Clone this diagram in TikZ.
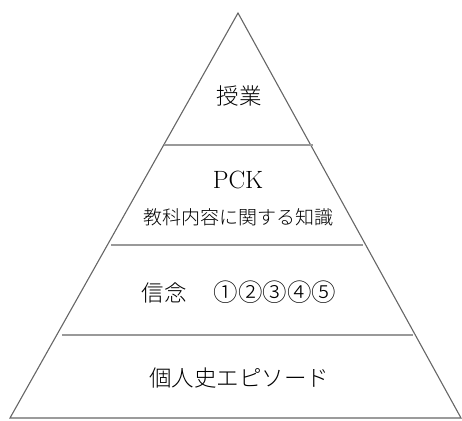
\documentclass[tikz,border=0pt]{standalone}
\usepackage{fontspec}
\newfontfamily\cjk{Noto Sans CJK JP Light}
\begin{document}
\begin{tikzpicture}[x=1pt,y=-1pt,
  edge/.style={draw=black!60,line width=1.1pt,line join=miter},
  divider/.style={draw=black!40,line width=2pt},
  lbl/.style={inner sep=0pt,anchor=center,text=black}]
\useasboundingbox (0,0) rectangle (462,420);
\coordinate (apex) at (238,13);
\coordinate (bl) at (10,418);
\coordinate (br) at (461,418);
\draw[edge] (apex) -- (bl) -- (br) -- cycle;
\coordinate (d1l) at (164,145); \coordinate (d1r) at (313,145);
\coordinate (d2l) at (111,245); \coordinate (d2r) at (363,245);
\coordinate (d3l) at (62,335); \coordinate (d3r) at (413,335);
\draw[divider] (d1l) -- (d1r);
\draw[divider] (d2l) -- (d2r);
\draw[divider] (d3l) -- (d3r);
\node[lbl,font=\cjk\fontsize{22.5}{24}\selectfont] (jugyo) at (239,96) {授業};
\node[lbl,font=\fontsize{25}{27}\selectfont] (pck) at (238,180) {PCK};
\node[lbl,font=\cjk\fontsize{19}{20}\selectfont] (kyoka) at (238,217) {教科内容に関する知識};
\node[lbl,font=\cjk\fontsize{22.5}{24}\selectfont] (shinnen) at (239,292) {信念\hspace{1.2em}{\fontsize{24.5}{26}\selectfont ①②③④⑤}};
\node[lbl,font=\cjk\fontsize{22.5}{24}\selectfont] (kojin) at (239,378) {個人史エピソード};
\end{tikzpicture}
\end{document}
